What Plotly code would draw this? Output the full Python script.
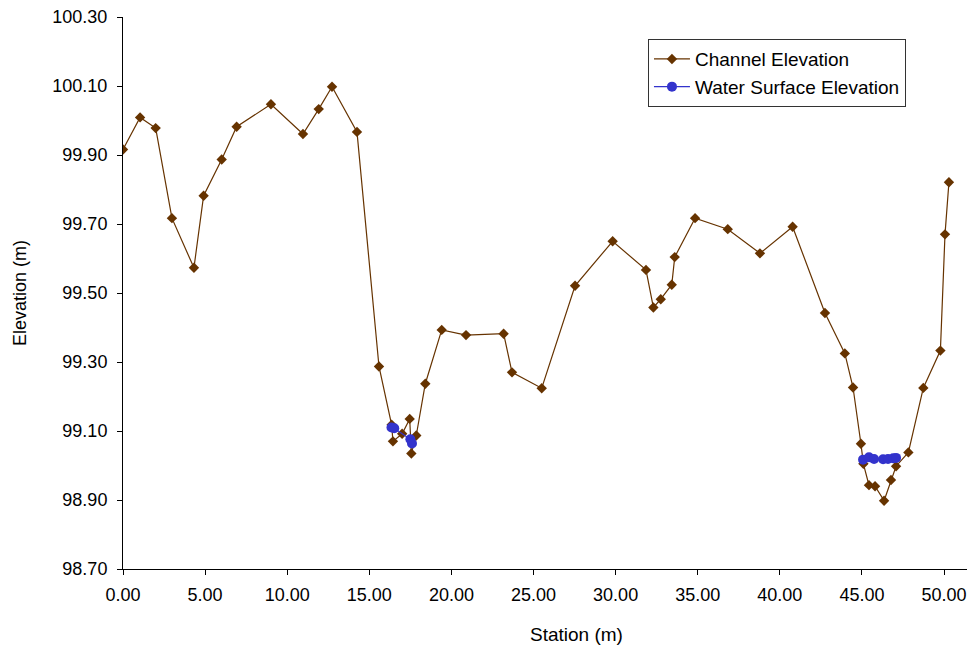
import plotly.graph_objects as go

# Channel cross-section (station in m, elevation in m)
channel_station = [0.00, 1.04, 1.99, 2.98, 4.32, 4.91, 6.01, 6.92, 9.01, 10.96, 11.92, 12.73,
                   14.25, 15.59, 16.36, 16.44, 17.00, 17.46, 17.56, 17.86, 18.41, 19.41, 20.89,
                   23.18, 23.69, 25.50, 27.53, 29.82, 31.85, 32.30, 32.75, 33.42, 33.60, 34.84,
                   36.83, 38.79, 40.78, 42.75, 43.96, 44.46, 44.94, 45.09, 45.43, 45.80, 46.35,
                   46.77, 47.08, 47.83, 48.74, 49.78, 50.06, 50.30]
channel_elev = [99.916, 100.009, 99.978, 99.717, 99.573, 99.782, 99.887, 99.982, 100.047, 99.961,
                100.033, 100.098, 99.967, 99.287, 99.118, 99.070, 99.092, 99.135, 99.035, 99.087,
                99.237, 99.393, 99.378, 99.382, 99.270, 99.224, 99.521, 99.650, 99.567, 99.458,
                99.482, 99.524, 99.604, 99.717, 99.685, 99.615, 99.692, 99.442, 99.325, 99.226,
                99.063, 99.005, 98.943, 98.940, 98.898, 98.958, 98.998, 99.038, 99.225, 99.333,
                99.670, 99.821]

# Water surface points (two wetted sections, separated by a gap)
water_station = [16.35, 16.52, 17.50, 17.60, None,
                 45.07, 45.43, 45.74, 46.29, 46.59, 46.90, 47.08]
water_elev = [99.110, 99.108, 99.076, 99.064, None,
              99.017, 99.024, 99.019, 99.018, 99.019, 99.021, 99.022]

x_ticks = [0, 5, 10, 15, 20, 25, 30, 35, 40, 45, 50]
y_ticks = [98.70, 98.90, 99.10, 99.30, 99.50, 99.70, 99.90, 100.10, 100.30]

FONT = "Liberation Sans, Arial, sans-serif"
BROWN = "#663300"
BLUE = "#3333CC"

fig = go.Figure()
fig.add_trace(go.Scatter(
    x=channel_station, y=channel_elev, mode="lines+markers", name="Channel Elevation",
    line=dict(color=BROWN, width=1.2),
    marker=dict(symbol="diamond", size=8, color=BROWN),
))
fig.add_trace(go.Scatter(
    x=water_station, y=water_elev, mode="lines+markers", name="Water Surface Elevation",
    line=dict(color=BLUE, width=1.2),
    marker=dict(symbol="circle", size=10, color=BLUE),
    connectgaps=False,
))

axis_common = dict(showgrid=False, zeroline=False, tickfont=dict(family=FONT, size=18, color="black"))

fig.update_layout(
    width=967, height=649,
    margin=dict(l=123, r=0, t=17, b=80),
    paper_bgcolor="white", plot_bgcolor="white",
    font=dict(family=FONT, size=18, color="black"),
    xaxis=dict(
        range=[0, 51.4], tickvals=x_ticks, tickformat=".2f",
        showline=True, linecolor="black", linewidth=1,
        ticks="outside", ticklen=5, tickcolor="black",
        ticklabelstandoff=4,
        **axis_common,
    ),
    yaxis=dict(
        range=[98.70, 100.30], tickvals=y_ticks, tickformat=".2f",
        showline=True, linecolor="black", linewidth=1,
        ticks="outside", ticklen=5, tickcolor="black",
        ticklabelstandoff=6,
        title=dict(text="Elevation (m)", font=dict(family=FONT, size=18), standoff=21),
        **axis_common,
    ),
    xaxis2=dict(overlaying="x", matches="x", range=[0, 51.4], tickvals=x_ticks,
                showticklabels=False, ticks="inside", ticklen=4, tickcolor="black",
                showgrid=False, zeroline=False, showline=False, side="bottom"),
    yaxis2=dict(overlaying="y", matches="y", range=[98.70, 100.30], tickvals=y_ticks,
                showticklabels=False, ticks="inside", ticklen=4, tickcolor="black",
                showgrid=False, zeroline=False, showline=False, side="left"),
    legend=dict(
        x=0.622, y=0.96, xanchor="left", yanchor="top",
        bordercolor="#333333", borderwidth=1, bgcolor="white",
        itemwidth=36,
        font=dict(family=FONT, size=19, color="black"),
    ),
    showlegend=True,
    annotations=[dict(
        text="Station (m)", xref="paper", yref="paper", x=0.537, y=-0.118,
        xanchor="center", yanchor="middle", showarrow=False,
        font=dict(family=FONT, size=19, color="black"),
    )],
)

fig.write_html("out.html")
